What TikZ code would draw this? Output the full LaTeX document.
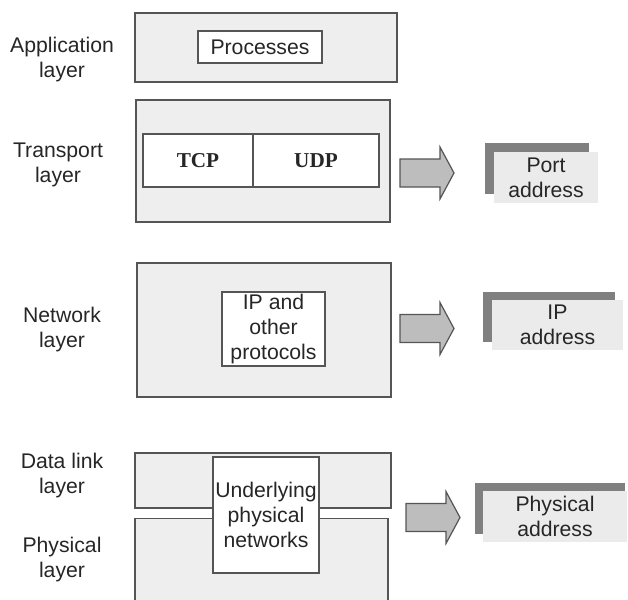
\documentclass[tikz,border=0pt]{standalone}
\usepackage{fontspec}
\setmainfont{Liberation Sans}
\newfontfamily\timesfont{Liberation Serif}
\definecolor{boxline}{HTML}{555555}
\definecolor{boxfill}{HTML}{EEEEEE}
\definecolor{arrowfill}{HTML}{BDBDBD}
\definecolor{cardback}{HTML}{808080}
\definecolor{cardfill}{HTML}{EBEBEB}
\begin{document}
\begin{tikzpicture}[x=0.5pt, y=-0.5pt,
    every node/.style={font=\fontsize{10.6}{12.5}\selectfont, inner sep=0pt, text=black!85},
    layerbox/.style={draw=boxline, line width=0.6pt, fill=boxfill, minimum width=#1},
    layerbox/.default=127pt,
    inbox/.style={draw=boxline, line width=0.6pt, fill=white, align=center},
    label/.style={align=center},
    card/.style={fill=cardfill, align=center},
    fatarrow/.style={draw=boxline, line width=0.6pt, fill=arrowfill, line join=miter}]
    \useasboundingbox (0,0) rectangle (628,600);
    % layer boxes
    \node[layerbox=131pt, minimum height=34.5pt] (app) at (266,47.5) {};
    \node[inbox, minimum width=62pt, minimum height=16pt] (proc) at (260,47) {Processes};
    \node[layerbox, minimum height=61pt] (trans) at (263,161) {};
    \node[inbox, minimum width=55pt, minimum height=26.5pt, font=\timesfont\bfseries\fontsize{10.6}{12.5}\selectfont] (tcp) at (198,160.5) {TCP};
    \node[inbox, minimum width=63pt, minimum height=26.5pt, font=\timesfont\bfseries\fontsize{10.6}{12.5}\selectfont] (udp) at (316,160.5) {UDP};
    \node[layerbox, minimum height=67pt] (net) at (264,330) {};
    \node[inbox, minimum width=51.5pt, minimum height=37pt] (ip) at (273.5,329) {IP and\\other\\protocols};
    \node[layerbox=128pt, minimum height=27.5pt] (dl) at (263,480.5) {};
    \node[layerbox=126.5pt, minimum height=43pt] (phys) at (261.5,561.5) {};
    \node[inbox, minimum width=53pt, minimum height=58pt] (under) at (266,515) {Underlying\\physical\\networks};
    % layer names
    \node[label] (lapp) at (62,59.5) {Application\\layer};
    \node[label] (ltrans) at (58,165) {Transport\\layer};
    \node[label] (lnet) at (62,329.5) {Network\\layer};
    \node[label] (ldl) at (62,475.5) {Data link\\layer};
    \node[label] (lphys) at (62,559.5) {Physical\\layer};
    % block arrows
    \foreach \ax/\ay/\aname in {400/173/atrans, 400/328.5/anet, 406/517.5/aphys} {
        \coordinate (\aname) at (\ax,\ay);
        \draw[fatarrow] (\aname) ++(0,-14) -- ++(40,0) -- ++(0,-12) -- ++(14,26)
            -- ++(-14,26) -- ++(0,-12) -- ++(-40,0) -- cycle;
    }
    % address cards
    \fill[cardback] (485,143) rectangle (589,194);
    \node[card, minimum width=52pt, minimum height=25.5pt] (port) at (546,177.5) {Port\\address};
    \fill[cardback] (483,292) rectangle (615,342);
    \node[card, minimum width=65.5pt, minimum height=25pt] (ipaddr) at (557.5,325) {IP\\address};
    \fill[cardback] (475,483) rectangle (625,534);
    \node[card, minimum width=72pt, minimum height=25.5pt] (physaddr) at (555,516.5) {Physical\\address};
\end{tikzpicture}
\end{document}
